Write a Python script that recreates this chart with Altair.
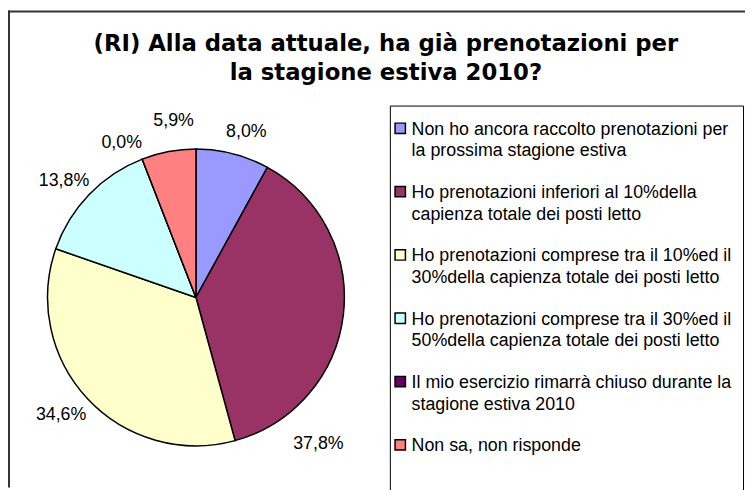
import altair as alt
import pandas as pd

title_lines = ["(RI) Alla data attuale, ha già prenotazioni per", "la stagione estiva 2010?"]

categories = [
    "Non ho ancora raccolto prenotazioni per\nla prossima stagione estiva",
    "Ho prenotazioni inferiori al 10%della\ncapienza totale dei posti letto",
    "Ho prenotazioni comprese tra il 10%ed il\n30%della capienza totale dei posti letto",
    "Ho prenotazioni comprese tra il 30%ed il\n50%della capienza totale dei posti letto",
    "Il mio esercizio rimarrà chiuso durante la\nstagione estiva 2010",
    "Non sa, non risponde",
]
values = [8.0, 37.8, 34.6, 13.8, 0.0, 5.9]
colors = ["#9999FF", "#993366", "#FFFFCC", "#CCFFFF", "#660066", "#FF8080"]

df = pd.DataFrame({
    "cat": categories,
    "value": values,
    "order": list(range(len(values))),
    "label": [f"{v:.1f}%".replace(".", ",") for v in values],
})
one = pd.DataFrame({"t": ["\n".join(title_lines)]})

CX, CY, R = 190, 290, 150
color = alt.Color("cat:N", scale=alt.Scale(domain=categories, range=colors), legend=None)

base = alt.Chart(df)

pie = base.mark_arc(outerRadius=R, stroke="black", strokeWidth=1.5).encode(
    x=alt.value(CX), y=alt.value(CY),
    theta=alt.Theta("value:Q", stack=True),
    order=alt.Order("order:Q"),
    color=color,
)

lab_base = base.transform_window(
    cum="sum(value)", sort=[alt.SortField("order")], frame=[None, 0]
).transform_calculate(mid="datum.cum - datum.value / 2")

# per-label nudges (label placement style, like Excel's outside labels)
nudges = {0: (7, 4), 1: (-52, 127), 2: (-7, -2), 3: (-6, 5), 4: (-11, 9), 5: (10, -4)}


def label_layer(i, dx, dy):
    return lab_base.transform_filter(f"datum.order == {i}").mark_text(
        radius=177, font="Liberation Sans", fontSize=18, color="black",
        baseline="middle", dx=dx, dy=dy
    ).encode(
        x=alt.value(CX), y=alt.value(CY),
        theta=alt.Theta("mid:Q", stack=None),
        text="label:N",
    )


label_layers = [label_layer(i, dx, dy) for i, (dx, dy) in nudges.items()]

leg_y = alt.Y("cat:N", scale=alt.Scale(type="point", domain=categories, range=[119, 439], padding=0), axis=None)
leg_sq = base.mark_square(size=110, stroke="black", strokeWidth=1.5, opacity=1).encode(
    x=alt.value(396.5), y=leg_y, color=color,
)
leg_txt = base.mark_text(
    align="left", baseline="alphabetic", dy=6.5, font="Liberation Sans", fontSize=18,
    lineBreak="\n", lineHeight=22, color="black"
).encode(x=alt.value(408), y=leg_y, text="cat:N")

frame = alt.Chart(one)
top_rule = frame.mark_rule(color="#333333", strokeWidth=2).encode(
    x=alt.value(0), x2=alt.value(745), y=alt.value(1))
left_rule = frame.mark_rule(color="#333333", strokeWidth=2).encode(
    x=alt.value(1), y=alt.value(0), y2=alt.value(482))
leg_box = frame.mark_rect(fill="white", stroke="black", strokeWidth=1).encode(
    x=alt.value(386.5), x2=alt.value(743.5), y=alt.value(96.5), y2=alt.value(490))
title = frame.mark_text(
    align="center", baseline="alphabetic", font="DejaVu Sans", fontWeight="bold",
    fontSize=23, lineBreak="\n", lineHeight=29, color="black"
).encode(x=alt.value(382), y=alt.value(41), text="t:N")

chart = alt.layer(
    top_rule, left_rule, leg_box, title, pie, *label_layers, leg_sq, leg_txt
).properties(
    width=745, height=482, autosize=alt.AutoSizeParams(type="none"), padding=0
).configure_view(strokeWidth=0)

chart.save("out.html", embed_options={"renderer": "svg", "actions": False})
